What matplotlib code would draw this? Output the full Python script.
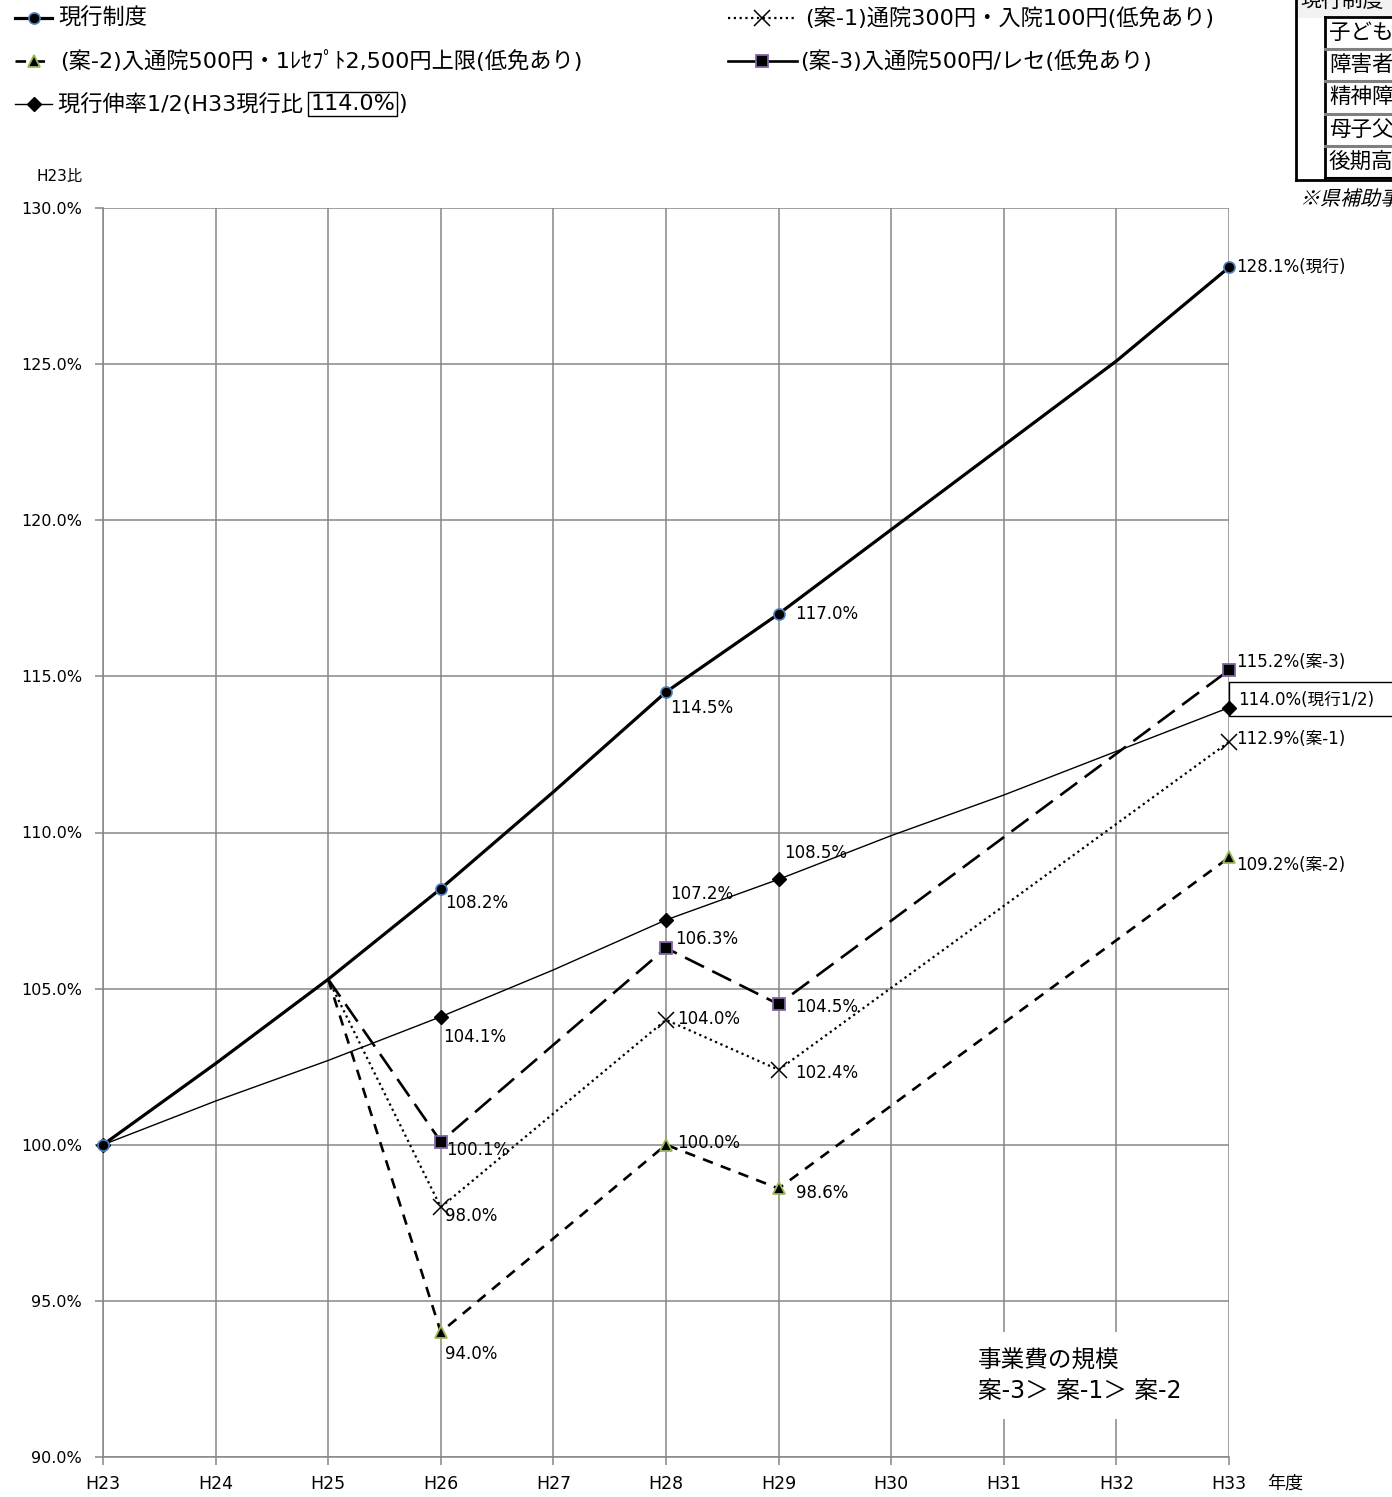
import matplotlib
matplotlib.use('Agg')
import matplotlib.pyplot as plt
from matplotlib.lines import Line2D
from matplotlib.patches import Rectangle, PathPatch
from matplotlib.textpath import TextPath
from matplotlib.font_manager import FontProperties
from matplotlib.transforms import Affine2D
from matplotlib.ticker import FuncFormatter

plt.rcParams['font.family'] = ['DejaVu Sans', 'Noto Sans CJK JP']

# 年度と各制度の事業費（H23比, %）
years = ['H23', 'H24', 'H25', 'H26', 'H27', 'H28', 'H29', 'H30', 'H31', 'H32', 'H33']
current = [100.0, 102.6, 105.3, 108.2, 111.3, 114.5, 117.0, 119.7, 122.4, 125.1, 128.1]
half_rate = [100.0, 101.4, 102.7, 104.1, 105.6, 107.2, 108.5, 109.9, 111.2, 112.6, 114.0]
plan_years = ['H25', 'H26', 'H28', 'H29', 'H33']
plan1 = [105.3, 98.0, 104.0, 102.4, 112.9]
plan2 = [105.3, 94.0, 100.0, 98.6, 109.2]
plan3 = [105.3, 100.1, 106.3, 104.5, 115.2]
labeled_years = ['H26', 'H28', 'H29', 'H33']

series_names = ['現行制度',
                '(案-1)通院300円・入院100円(低免あり)',
                '(案-2)入通院500円・1ﾚｾﾌﾟﾄ2,500円上限(低免あり)',
                '(案-3)入通院500円/レセ(低免あり)',
                '現行伸率1/2(H33現行比 ']
table_head = '現行制度'
table_rows = ['子ども医', '障害者医', '精神障害', '母子父子', '後期高齢']
table_note = '※県補助事業'

W, H = 1392, 1497
fig = plt.figure(figsize=(W / 100, H / 100), dpi=100)
ax = fig.add_axes([103 / W, 1 - 1457 / H, (1229 - 103) / W, (1457 - 208) / H])

GRID = '#868686'
idx = {y: i for i, y in enumerate(years)}
px = [idx[y] for y in plan_years]
mark = [idx[y] for y in ['H23'] + labeled_years]

styles = {
    'current': dict(color='black', lw=2.3, marker='o', ms=8, mfc='black', mec='#4f81bd', mew=1.2),
    'plan1': dict(color='black', lw=1.6, ls=(0, (1, 1.6)), marker='x', ms=11, mec='black', mew=1.1),
    'plan2': dict(color='black', lw=1.9, ls=(0, (4, 3.2)), marker='^', ms=9, mfc='black', mec='#9bbb59', mew=1.3),
    'plan3': dict(color='black', lw=1.9, ls=(0, (8, 3.5)), marker='s', ms=8.5, mfc='black', mec='#8064a2', mew=1.3),
    'half': dict(color='black', lw=1.0, marker='D', ms=7, mfc='black', mec='black'),
}

ax.plot(range(len(years)), half_rate, markevery=mark, zorder=4, clip_on=False, **styles['half'])
ax.plot(range(len(years)), current, markevery=mark, zorder=5, clip_on=False, **styles['current'])
ax.plot(px, plan1, markevery=[1, 2, 3, 4], zorder=4, clip_on=False, **styles['plan1'])
ax.plot(px, plan2, markevery=[1, 2, 3, 4], zorder=4, clip_on=False, **styles['plan2'])
ax.plot(px, plan3, markevery=[1, 2, 3, 4], zorder=4, clip_on=False, **styles['plan3'])

ax.set_xlim(0, len(years) - 1)
ax.set_ylim(90, 130)
ax.set_xticks(range(len(years)))
ax.set_xticklabels(years)
ax.set_yticks([90, 95, 100, 105, 110, 115, 120, 125, 130])
ax.yaxis.set_major_formatter(FuncFormatter(lambda v, p: f'{v:.1f}%'))
ax.tick_params(axis='both', color=GRID, width=1.1, length=6)
ax.tick_params(axis='x', labelsize=12.5, pad=7)
ax.tick_params(axis='y', labelsize=11.5, pad=9)
ax.grid(True, color=GRID, lw=1.1)
ax.set_axisbelow(True)
for s in ['top', 'right']:
    ax.spines[s].set_visible(False)
for s in ['left', 'bottom']:
    ax.spines[s].set_color(GRID)
    ax.spines[s].set_linewidth(1.1)


# data labels
def label(series_x, series_y, offsets, suffix=''):
    for k, yr in enumerate(labeled_years):
        xi = idx[yr]
        yv = series_y[series_x.index(xi)]
        txt = f'{yv:.1f}%' + (suffix if yr == 'H33' else '')
        ax.annotate(txt, (xi, yv), xytext=offsets[k], textcoords='offset pixels',
                    ha='left', va='center', fontsize=12, zorder=7, annotation_clip=False)


full_x = list(range(len(years)))
label(full_x, current, [(4, -14), (4, -16), (17, 0), (7, 0)], '(現行)')
label(full_x, half_rate, [(2, -20), (4, 26), (6, 26), (9, 8)], '(現行1/2)')
label(px, plan1, [(4, -9), (11, 1), (17, -3), (7, 3)], '(案-1)')
label(px, plan2, [(4, -22), (11, 2), (17, -5), (7, -8)], '(案-2)')
label(px, plan3, [(5, -8), (9, 9), (17, -3), (7, 8)], '(案-3)')

# frame around the 1/2 growth end label, from the end point to the right edge
ex, ey = ax.transData.transform((idx['H33'], half_rate[-1]))
ax.add_patch(Rectangle((ex, ey - 8), W - ex + 10, 34, fc='white', ec='black',
                       lw=1.0, transform=None, clip_on=False, zorder=3.5))

ax.text(7.77, 92.6, '事業費の規模\n案-3＞ 案-1＞ 案-2', fontsize=17, ha='left', va='center',
        linespacing=1.3, zorder=6,
        bbox=dict(boxstyle='square,pad=0.7', fc='white', ec='none'))

# axis captions
fig.text(60 / W, 1 - 176 / H, 'H23比', fontsize=11, ha='center', va='center')
fig.text(1285 / W, 1 - 1484 / H, '年度', fontsize=13, ha='center', va='center')


# legend drawn by hand
def fx(x):
    return x / W


def fy(y):
    return 1 - y / H


def legend_item(x0, x1, y, style, text, tx, solid=False):
    st = dict(style)
    m = st.pop('marker')
    ms = st.pop('ms')
    mk = {k: st.pop(k) for k in ['mfc', 'mec', 'mew'] if k in st}
    if solid:
        st['ls'] = '-'
    fig.add_artist(Line2D([fx(x0), fx(x1)], [fy(y), fy(y)], **st))
    fig.add_artist(Line2D([fx((x0 + x1) / 2)], [fy(y)], marker=m, ms=ms, ls='none',
                          color=st['color'], **mk))
    return fig.text(fx(tx), fy(y), text, fontsize=16, ha='left', va='center')


legend_item(15, 52, 18, styles['current'], series_names[0], 58)
legend_item(15, 52, 61, styles['plan2'], series_names[2], 60)
t = legend_item(15, 52, 104, styles['half'], series_names[4], 58)
legend_item(728, 797, 18, styles['plan1'], series_names[1], 805)
legend_item(728, 797, 61, styles['plan3'], series_names[3], 800, solid=True)

fig.canvas.draw()
bb = t.get_window_extent()
t2 = fig.text(bb.x1 / W, fy(104), f'{half_rate[-1]:.1f}%', fontsize=16, ha='left', va='center',
              bbox=dict(boxstyle='square,pad=0.1', fc='none', ec='black', lw=1.0))
fig.canvas.draw()
bb2 = t2.get_window_extent()
fig.text(bb2.x1 / W + 0.002, fy(104), ')', fontsize=16, ha='left', va='center')

# table at the upper right
fig.add_artist(Rectangle((fx(1296), fy(18)), fx(W) - fx(1296), fy(0) - fy(18),
                         fc='#f2f2f2', ec='none'))
fig.text(fx(1300), fy(1), table_head, fontsize=15, ha='left', va='center',
         family=['Noto Sans CJK JP'])
fig.add_artist(Line2D([fx(1296), fx(1296)], [fy(0), fy(180)], color='black', lw=2))
fig.add_artist(Line2D([fx(1296), fx(W)], [fy(180), fy(180)], color='black', lw=2))
fig.add_artist(Line2D([fx(1325), fx(1325)], [fy(17), fy(178)], color='black', lw=2))
fig.add_artist(Line2D([fx(1325), fx(W)], [fy(17), fy(17)], color='black', lw=2))
fig.add_artist(Line2D([fx(1325), fx(W)], [fy(178), fy(178)], color='black', lw=1.5))
for k, row in enumerate(table_rows):
    yc = 33 + 32.2 * k
    fig.text(fx(1329), fy(yc), row, fontsize=15.5, ha='left', va='center',
             family=['Noto Sans CJK JP'])
    if k > 0:
        fig.add_artist(Line2D([fx(1325), fx(W)], [fy(yc - 16), fy(yc - 16)], color='#808080', lw=2.2))

# slanted note below the table
note = TextPath((0, 0), table_note, size=20, prop=FontProperties(family='Noto Sans CJK JP'))
note_tr = Affine2D().skew_deg(14, 0).translate(1300, H - 205)
fig.add_artist(PathPatch(note_tr.transform_path(note), fc='black', ec='none', transform=None))

fig.savefig('out.png', dpi=100)
